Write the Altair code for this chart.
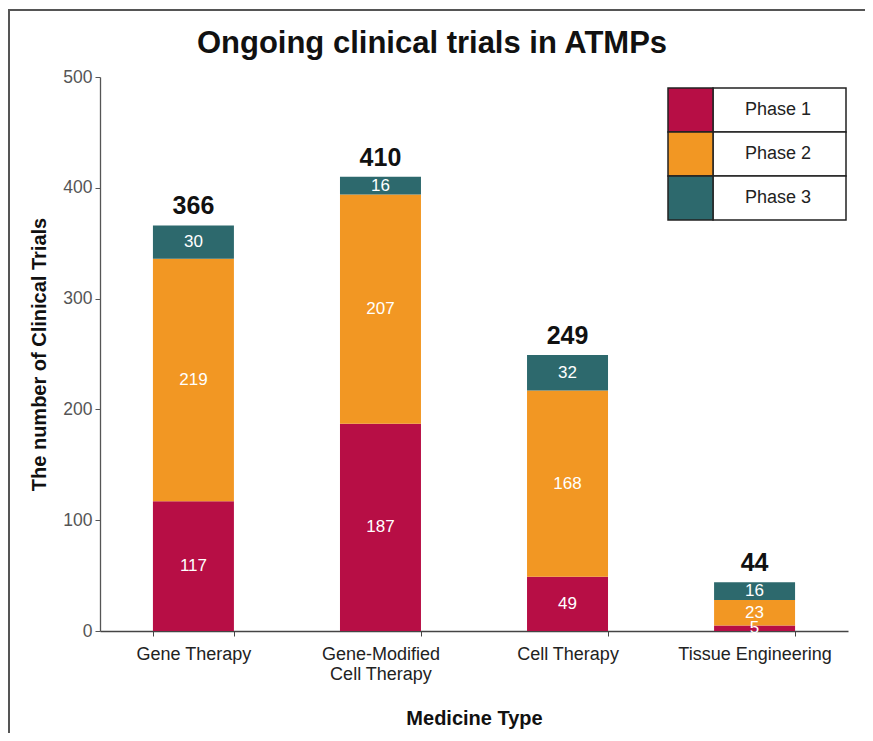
import altair as alt
import pandas as pd

categories = ["Gene Therapy", "Gene-Modified Cell Therapy", "Cell Therapy", "Tissue Engineering"]
phases = ["Phase 1", "Phase 2", "Phase 3"]
phase1 = [117, 187, 49, 5]
phase2 = [219, 207, 168, 23]
phase3 = [30, 16, 32, 16]
colors = ["#B70E45", "#F29723", "#2D696D"]
title_text = "Ongoing clinical trials in ATMPs"

rows = []
for i, c in enumerate(categories):
    for j, (p, vals) in enumerate(zip(phases, [phase1, phase2, phase3])):
        rows.append({"category": c, "phase": p, "order": j, "value": vals[i]})
df = pd.DataFrame(rows)
totals = pd.DataFrame({"category": categories,
                       "total": [a + b + c for a, b, c in zip(phase1, phase2, phase3)]})
legend_df = pd.DataFrame({"phase": phases})
frame_df = pd.DataFrame({"k": [0]})

FONT = "Liberation Sans"

xenc = alt.X("category:N", sort=categories,
             scale=alt.Scale(paddingInner=0.567, paddingOuter=0.283),
             axis=alt.Axis(title="Medicine Type", labelAngle=0, tickBand="extent",
                           labelExpr="datum.label == 'Gene-Modified Cell Therapy' ? ['Gene-Modified', 'Cell Therapy'] : datum.label",
                           labelFontSize=18, labelColor="#222", labelFont=FONT, labelPadding=9,
                           labelLineHeight=20,
                           tickSize=5, tickColor="#444", domainColor="#444", domainWidth=1.3,
                           titleFontSize=20, titleFont=FONT, titleFontWeight="bold", titleColor="#111",
                           titlePadding=25, grid=False))
ysc = alt.Scale(domain=[0, 500])
yaxis = alt.Axis(title="The number of Clinical Trials", values=[0, 100, 200, 300, 400, 500],
                 labelFontSize=17.5, labelColor="#555", labelFont=FONT, labelPadding=3,
                 tickSize=5, tickColor="#555", domainColor="#555", domainWidth=1.3,
                 titleFontSize=20, titleFont=FONT, titleFontWeight="bold", titleColor="#111",
                 titlePadding=13, grid=False)
color = alt.Color("phase:N", scale=alt.Scale(domain=phases, range=colors), legend=None)

base = alt.Chart(df).transform_stack(
    stack="value", groupby=["category"], sort=[alt.SortField("order")], as_=["y0", "y1"]
).transform_calculate(mid="(datum.y0 + datum.y1) / 2")

bars = base.mark_bar().encode(
    x=xenc,
    y=alt.Y("y0:Q", scale=ysc, axis=yaxis),
    y2="y1:Q",
    color=color,
)
seg_labels = base.mark_text(color="white", fontSize=17, font=FONT, baseline="middle").encode(
    x=alt.X("category:N", sort=categories),
    y=alt.Y("mid:Q", scale=ysc),
    text="value:Q",
)
tot_labels = alt.Chart(totals).mark_text(color="#111", fontSize=25, font=FONT, fontWeight="bold",
                                         baseline="bottom", dy=-6).encode(
    x=alt.X("category:N", sort=categories),
    y=alt.Y("total:Q", scale=ysc),
    text="total:Q",
)

main = alt.layer(bars, seg_labels, tot_labels)

ly = alt.Y("phase:N", sort=phases, scale=alt.Scale(range=[11, 143], paddingInner=0, paddingOuter=0), axis=None)
leg_sw = alt.Chart(legend_df).mark_rect(stroke="#222", strokeWidth=1.5).encode(
    x=alt.value(568), x2=alt.value(613), y=ly,
    color=alt.Color("phase:N", scale=alt.Scale(domain=phases, range=colors), legend=None),
)
leg_cell = alt.Chart(legend_df).mark_rect(stroke="#222", strokeWidth=1.5, fill="white").encode(
    x=alt.value(613), x2=alt.value(746), y=ly,
)
leg_txt = alt.Chart(legend_df).mark_text(fontSize=18, font=FONT, color="#222", baseline="middle").encode(
    x=alt.value(678), y=ly, text="phase:N",
)
legend = alt.layer(leg_cell, leg_sw, leg_txt)

frame = alt.Chart(frame_df).mark_rect(fill=None, stroke="#555", strokeWidth=2).encode(
    x=alt.value(-91), x2=alt.value(766), y=alt.value(-67), y2=alt.value(657),
)
title = alt.Chart(frame_df).mark_text(text=title_text, font=FONT, fontSize=31, fontWeight="bold",
                                      color="#111", baseline="alphabetic", align="center").encode(
    x=alt.value(332), y=alt.value(-24),
)

chart = alt.layer(main, legend, frame, title).resolve_scale(y="independent").properties(
    width=748, height=554,
    autosize=alt.AutoSizeParams(type="none"),
    padding={"left": 92, "top": 69, "right": 17, "bottom": 102},
).configure(background="white").configure_view(stroke=None)

chart.save("out.html", embed_options={"renderer": "svg", "actions": False})
